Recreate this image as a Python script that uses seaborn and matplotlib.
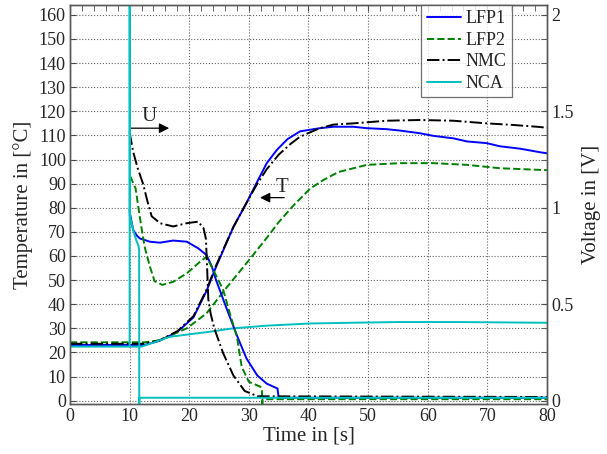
import numpy as np
import pandas as pd
import matplotlib
matplotlib.use("Agg")
import matplotlib.pyplot as plt
from matplotlib.lines import Line2D
from matplotlib.ticker import MultipleLocator
import seaborn as sns

# ---- temperature curves (left axis, degC) ----
t_lfp1_T = [0, 12.5, 15, 18, 20.7, 22.9, 24.5, 27.4, 29.6, 31.3, 33, 34.7, 36.5, 38.6, 41.9,
            44.2, 47.5, 49.8, 53.1, 55.4, 58.7, 61, 64.3, 66.6, 69.9, 72.1, 75.5, 78.9, 80]
lfp1_T = [23.1, 23.1, 24.8, 28.5, 34.5, 45.5, 55.5, 72, 82, 90.3, 98.5, 104, 108.5, 111.7, 113,
          113.6, 113.6, 113, 112.6, 112, 110.9, 109.8, 108.8, 107.5, 106.8, 105.5, 104.5, 103, 102.6]

t_lfp2_T = [0, 12.5, 15, 19.6, 22.9, 26.3, 29.6, 33, 35, 37.5, 40.3, 42.5, 45, 49.8, 55.4, 61,
            66.6, 72.1, 78.9, 80]
lfp2_T = [24.2, 24.2, 25, 30, 36.2, 47, 57, 67.5, 74, 81, 88, 91.5, 94.8, 97.8, 98.5, 98.5,
          97.8, 96.4, 95.7, 95.6]

t_nmc_T = [0, 12.5, 15, 18, 20.7, 22.9, 24.5, 27.4, 29.6, 31.3, 33, 35, 37, 38.6, 41.9, 44.2,
           47.5, 53.1, 58.7, 64.3, 69.9, 74, 78.3, 80]
nmc_T = [23.6, 23.6, 25, 28.8, 35, 46, 56, 72, 82, 89.5, 96, 102, 106.5, 109.5, 113, 114.5,
         115, 116.1, 116.4, 116.1, 115, 114.4, 113.6, 113.2]

t_nca_T = [0, 12, 16.8, 23.5, 27.4, 33, 40.3, 47, 55, 65, 80]
nca_T = [22.4, 22.4, 26.5, 28.6, 30, 31.1, 32, 32.3, 32.6, 32.6, 32.3]

# ---- voltage curves (right axis, V) ----
t_lfp1_U = [10.0, 10.1, 10.6, 11.2, 11.7, 13.4, 15.1, 17.3, 19.6, 21.5, 22.9, 23.8, 24.5, 26.3,
            28.0, 29.6, 31.4, 33.0, 34.8, 35.0, 80]
lfp1_U = [0.99, 0.963, 0.885, 0.856, 0.841, 0.824, 0.819, 0.830, 0.824, 0.790, 0.755, 0.695,
          0.625, 0.475, 0.338, 0.219, 0.131, 0.088, 0.063, 0.015, 0.015]

t_lfp2_U = [10.1, 11.0, 11.7, 12.5, 13.4, 14.2, 15.5, 17.3, 19.6, 21.8, 22.9, 24.6, 25.7, 26.8,
            28.0, 28.8, 30.0, 31.9, 32.2, 32.25, 32.3, 80]
lfp2_U = [1.163, 1.10, 0.954, 0.80, 0.695, 0.619, 0.60, 0.616, 0.66, 0.72, 0.746, 0.643, 0.574,
          0.453, 0.331, 0.175, 0.0975, 0.0725, 0.0625, -0.04, 0.0075, 0.0075]

t_nmc_U = [10.0, 10.6, 11.3, 12.3, 12.9, 13.7, 15.1, 17.3, 19.6, 21.5, 22.4, 22.8, 23.0, 23.2,
           23.6, 24.2, 25.7, 27.4, 29.3, 31.5, 80]
nmc_U = [1.39, 1.29, 1.21, 1.12, 1.044, 0.956, 0.92, 0.903, 0.92, 0.928, 0.894, 0.838, 0.688,
         0.525, 0.45, 0.375, 0.245, 0.131, 0.05, 0.0225, 0.019]

t_nca_U = [10.0, 10.01, 10.03, 10.6, 11.1, 11.5, 11.6, 11.62, 11.65, 80]
nca_U = [0.28, 2.6, 0.96, 0.885, 0.833, 0.80, 0.78, -0.04, 0.015, 0.015]

names = ["LFP1", "LFP2", "NMC", "NCA"]
colors = {"LFP1": "#0000ff", "LFP2": "#008000", "NMC": "#000000", "NCA": "#00bfbf"}
styles = {"LFP1": "-", "LFP2": "--", "NMC": "-.", "NCA": "-"}

temps = {"LFP1": (t_lfp1_T, lfp1_T), "LFP2": (t_lfp2_T, lfp2_T),
         "NMC": (t_nmc_T, nmc_T), "NCA": (t_nca_T, nca_T)}
volts = {"LFP1": (t_lfp1_U, lfp1_U), "LFP2": (t_lfp2_U, lfp2_U),
         "NMC": (t_nmc_U, nmc_U), "NCA": (t_nca_U, nca_U)}

sns.set_style("white")
plt.rcParams["font.family"] = ["Liberation Serif", "DejaVu Serif"]

fig = plt.figure(figsize=(6.07, 4.54), dpi=100)
ax = fig.add_axes([0.1153, 0.1101, 0.7858, 0.8789])
ax2 = ax.twinx()

for n in names:
    t, v = temps[n]
    df = pd.DataFrame({"t": t, "v": v})
    sns.lineplot(data=df, x="t", y="v", ax=ax, color=colors[n], linestyle=styles[n],
                 linewidth=1.4, estimator=None, sort=False)
    t, v = volts[n]
    df = pd.DataFrame({"t": t, "v": v})
    sns.lineplot(data=df, x="t", y="v", ax=ax2, color=colors[n], linestyle=styles[n],
                 linewidth=1.4, estimator=None, sort=False)

ylo, yhi = -1.4, 164.1
ax.set_xlim(0, 80)
ax.set_ylim(ylo, yhi)
ax2.set_ylim(ylo / 80, yhi / 80)

ax.xaxis.set_major_locator(MultipleLocator(10))
ax.xaxis.set_minor_locator(MultipleLocator(2))
ax.yaxis.set_major_locator(MultipleLocator(10))
ax2.yaxis.set_major_locator(MultipleLocator(0.5))
ax2.yaxis.set_minor_locator(MultipleLocator(0.125))
ax2.set_yticklabels(["0" if v == 0 else f"{v:g}" for v in ax2.get_yticks()])

ax.tick_params(axis="both", which="both", direction="in", labelsize=13, length=4,
               color="0.3", top=True, pad=3)
ax2.tick_params(axis="y", which="both", direction="in", labelsize=13, length=4,
                color="0.3", pad=3)
ax.grid(True, which="major", linestyle=":", color="0.4", linewidth=0.8)

for a in (ax, ax2):
    for s in a.spines.values():
        s.set_color("0.35")
        s.set_linewidth(1.0)

ax.set_xlabel("Time in [s]", fontsize=15, labelpad=1)
ax.set_ylabel("Temperature in [°C]", fontsize=15, labelpad=4)
ax2.set_ylabel("Voltage in [V]", fontsize=15, labelpad=6)

# annotations
ax.annotate("", xy=(17.1, 113), xytext=(9.8, 113),
            arrowprops=dict(arrowstyle="-|>", color="k", lw=0.9, mutation_scale=15))
ax.text(13.3, 114, "U", fontsize=15, ha="center", va="bottom")
ax.annotate("", xy=(31.4, 84.2), xytext=(36.4, 84.2),
            arrowprops=dict(arrowstyle="-|>", color="k", lw=0.9, mutation_scale=15))
ax.text(35.5, 84.5, "T", fontsize=15, ha="center", va="bottom")

handles = [Line2D([], [], color=colors[n], linestyle=styles[n], linewidth=1.4) for n in names]
leg = ax2.legend(handles, names, loc="upper right", bbox_to_anchor=(0.9266, 1.0),
                 borderaxespad=0, fontsize=13, frameon=True, fancybox=False,
                 handlelength=1.9, handletextpad=0.25, labelspacing=0.25, borderpad=0.3)
leg.get_frame().set_edgecolor("0.3")
leg.get_frame().set_linewidth(0.9)

fig.savefig("out.png", dpi=100)
